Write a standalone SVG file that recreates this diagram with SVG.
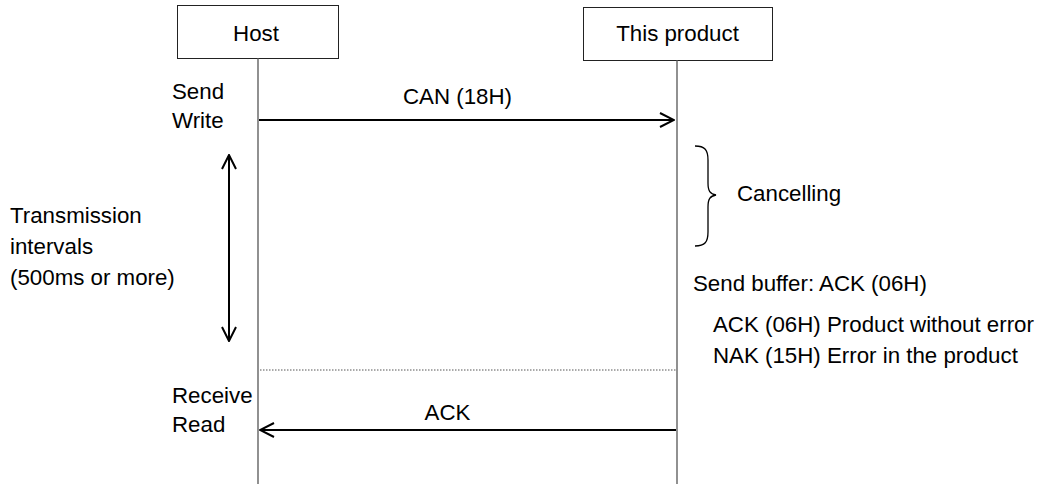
<svg xmlns="http://www.w3.org/2000/svg" width="1043" height="484" viewBox="0 0 1043 484">
<style>
text{font-family:"Liberation Sans",Arial,sans-serif;font-size:22.3px;fill:#000}
.box{fill:#fff;stroke:#222;stroke-width:1}
.life{stroke:#555;stroke-width:1.3;fill:none}
.msg{stroke:#000;stroke-width:2;fill:none}
.dot{stroke:#555;stroke-width:1;stroke-dasharray:1.5 1.5;fill:none}
</style>
<defs>
<marker id="open" viewBox="0 0 16 16" refX="15" refY="8" markerWidth="16" markerHeight="16" markerUnits="userSpaceOnUse" orient="auto-start-reverse">
<path d="M1,1 L15,8 L1,15" fill="none" stroke="#000" stroke-width="2"/>
</marker>
</defs>
<g id="host">
<rect class="box" x="177.5" y="5.5" width="161" height="53"/>
<text x="256" y="41" text-anchor="middle">Host</text>
</g>
<g id="product">
<rect class="box" x="583.5" y="7.5" width="189" height="53"/>
<text x="677.5" y="41" text-anchor="middle">This product</text>
</g>
<g id="connectors">
<line class="life" x1="258" y1="58" x2="258" y2="484"/>
<line class="life" x1="677" y1="60" x2="677" y2="484"/>
<line class="msg" x1="259" y1="120" x2="674" y2="120" marker-end="url(#open)"/>
<line class="msg" x1="676" y1="430" x2="260" y2="430" marker-end="url(#open)"/>
<line class="msg" x1="229" y1="155" x2="229" y2="341" marker-start="url(#open)" marker-end="url(#open)"/>
<line class="dot" x1="260" y1="370" x2="676" y2="370"/>
<path d="M695,146 C705,146 708,150 708,160 L708,183 C708,191 710,194 716,195 C710,196 708,199 708,207 L708,232 C708,242 705,246 695,246" fill="none" stroke="#000" stroke-width="1.3"/>
</g>
<g id="labels">
<text x="172" y="99">Send</text>
<text x="172" y="128">Write</text>
<text x="457.5" y="104" text-anchor="middle">CAN (18H)</text>
<text x="10" y="223">Transmission</text>
<text x="10" y="254">intervals</text>
<text x="10" y="285">(500ms or more)</text>
<text x="737" y="201">Cancelling</text>
<text x="693" y="291">Send buffer: ACK (06H)</text>
<text x="713" y="332">ACK (06H) Product without error</text>
<text x="713" y="363">NAK (15H) Error in the product</text>
<text x="172" y="403">Receive</text>
<text x="172" y="432">Read</text>
<text x="447.5" y="420" text-anchor="middle">ACK</text>
</g>
</svg>
